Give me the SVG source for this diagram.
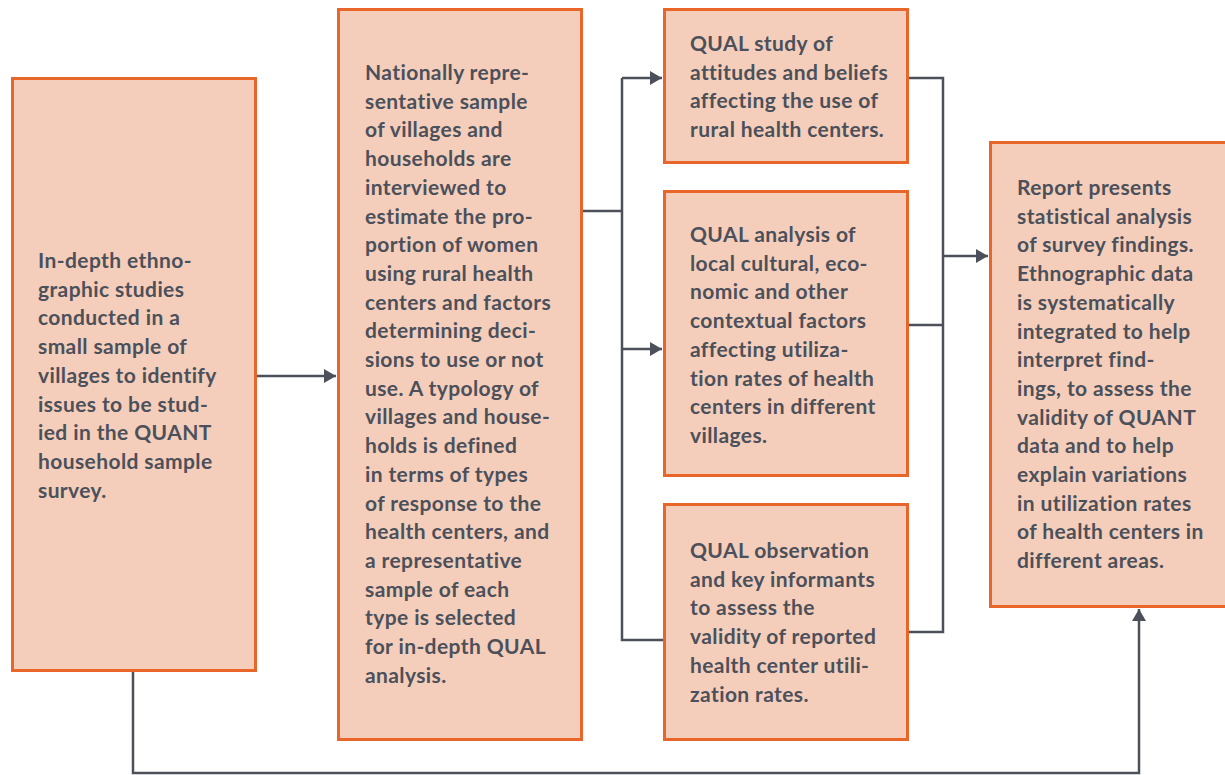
<svg xmlns="http://www.w3.org/2000/svg" width="1225" height="775" viewBox="0 0 1225 775">
<defs>
<marker id="ah" viewBox="0 0 12 14" refX="12" refY="7" markerWidth="12" markerHeight="14" markerUnits="userSpaceOnUse" orient="auto">
<path d="M0,0 L12,7 L0,14 Z" fill="#4b505a"/>
</marker>
<style>
.box{fill:#f5cebb;stroke:#e8662a;stroke-width:3}
.t{font-family:Lato,"Open Sans","Liberation Sans",sans-serif;font-weight:bold;font-size:21px;letter-spacing:0.4px;fill:#4b505a}
.c{fill:none;stroke:#4b505a;stroke-width:2.5}
</style>
</defs>
<rect width="1225" height="775" fill="#ffffff"/>
<g id="connectors">
<path class="c" d="M256,376 H336" marker-end="url(#ah)"/>
<path class="c" d="M582,211 H622"/>
<path class="c" d="M622,78 V640 H664"/>
<path class="c" d="M622,78 H662" marker-end="url(#ah)"/>
<path class="c" d="M622,349 H662" marker-end="url(#ah)"/>
<path class="c" d="M908,78 H943 V632 H908"/>
<path class="c" d="M908,325 H943"/>
<path class="c" d="M943,256 H988" marker-end="url(#ah)"/>
<path class="c" d="M133,671 V773 H1139 V609" marker-end="url(#ah)"/>
</g>
<g id="n1">
<rect class="box" x="12.5" y="78.5" width="243" height="592"/>
<text class="t" x="38" y="268"><tspan x="38" dy="0">In-depth ethno-</tspan><tspan x="38" dy="28.7">graphic studies</tspan><tspan x="38" dy="28.7">conducted in a</tspan><tspan x="38" dy="28.7">small sample of</tspan><tspan x="38" dy="28.7">villages to identify</tspan><tspan x="38" dy="28.7">issues to be stud-</tspan><tspan x="38" dy="28.7">ied in the QUANT</tspan><tspan x="38" dy="28.7">household sample</tspan><tspan x="38" dy="28.7">survey.</tspan></text>
</g>
<g id="n2">
<rect class="box" x="338.5" y="9.5" width="243" height="730"/>
<text class="t" x="365" y="80"><tspan x="365" dy="0">Nationally repre-</tspan><tspan x="365" dy="28.7">sentative sample</tspan><tspan x="365" dy="28.7">of villages and</tspan><tspan x="365" dy="28.7">households are</tspan><tspan x="365" dy="28.7">interviewed to</tspan><tspan x="365" dy="28.7">estimate the pro-</tspan><tspan x="365" dy="28.7">portion of women</tspan><tspan x="365" dy="28.7">using rural health</tspan><tspan x="365" dy="28.7">centers and factors</tspan><tspan x="365" dy="28.7">determining deci-</tspan><tspan x="365" dy="28.7">sions to use or not</tspan><tspan x="365" dy="28.7">use. A typology of</tspan><tspan x="365" dy="28.7">villages and house-</tspan><tspan x="365" dy="28.7">holds is defined</tspan><tspan x="365" dy="28.7">in terms of types</tspan><tspan x="365" dy="28.7">of response to the</tspan><tspan x="365" dy="28.7">health centers, and</tspan><tspan x="365" dy="28.7">a representative</tspan><tspan x="365" dy="28.7">sample of each</tspan><tspan x="365" dy="28.7">type is selected</tspan><tspan x="365" dy="28.7">for in-depth QUAL</tspan><tspan x="365" dy="28.7">analysis.</tspan></text>
</g>
<g id="n3">
<rect class="box" x="664.5" y="9.5" width="243" height="153"/>
<text class="t" x="690" y="51"><tspan x="690" dy="0">QUAL study of</tspan><tspan x="690" dy="28.7">attitudes and beliefs</tspan><tspan x="690" dy="28.7">affecting the use of</tspan><tspan x="690" dy="28.7">rural health centers.</tspan></text>
</g>
<g id="n4">
<rect class="box" x="664.5" y="191.5" width="243" height="284"/>
<text class="t" x="690" y="242"><tspan x="690" dy="0">QUAL analysis of</tspan><tspan x="690" dy="28.7">local cultural, eco-</tspan><tspan x="690" dy="28.7">nomic and other</tspan><tspan x="690" dy="28.7">contextual factors</tspan><tspan x="690" dy="28.7">affecting utiliza-</tspan><tspan x="690" dy="28.7">tion rates of health</tspan><tspan x="690" dy="28.7">centers in different</tspan><tspan x="690" dy="28.7">villages.</tspan></text>
</g>
<g id="n5">
<rect class="box" x="664.5" y="504.5" width="243" height="235"/>
<text class="t" x="690" y="558"><tspan x="690" dy="0">QUAL observation</tspan><tspan x="690" dy="28.7">and key informants</tspan><tspan x="690" dy="28.7">to assess the</tspan><tspan x="690" dy="28.7">validity of reported</tspan><tspan x="690" dy="28.7">health center utili-</tspan><tspan x="690" dy="28.7">zation rates.</tspan></text>
</g>
<g id="n6">
<rect class="box" x="990.5" y="142.5" width="240" height="464"/>
<text class="t" x="1017" y="195"><tspan x="1017" dy="0">Report presents</tspan><tspan x="1017" dy="28.7">statistical analysis</tspan><tspan x="1017" dy="28.7">of survey findings.</tspan><tspan x="1017" dy="28.7">Ethnographic data</tspan><tspan x="1017" dy="28.7">is systematically</tspan><tspan x="1017" dy="28.7">integrated to help</tspan><tspan x="1017" dy="28.7">interpret find-</tspan><tspan x="1017" dy="28.7">ings, to assess the</tspan><tspan x="1017" dy="28.7">validity of QUANT</tspan><tspan x="1017" dy="28.7">data and to help</tspan><tspan x="1017" dy="28.7">explain variations</tspan><tspan x="1017" dy="28.7">in utilization rates</tspan><tspan x="1017" dy="28.7">of health centers in</tspan><tspan x="1017" dy="28.7">different areas.</tspan></text>
</g>
</svg>
